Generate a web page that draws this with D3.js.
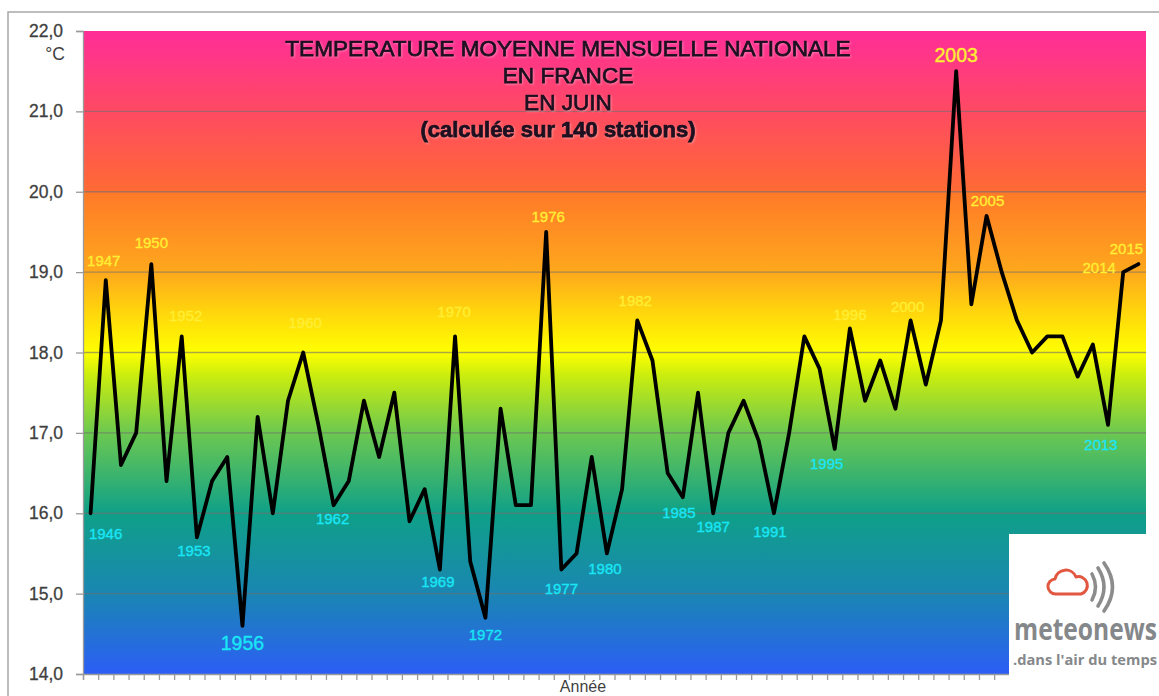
<!doctype html>
<html>
<head>
<meta charset="utf-8">
<script src="https://cdnjs.cloudflare.com/ajax/libs/d3/7.8.5/d3.min.js"></script>
<style>
html, body { margin: 0; padding: 0; background: #fff; overflow: hidden; }
svg { display: block; font-family: "Liberation Sans", Arial, sans-serif; }
.tick text { fill: #3f3f3f; stroke: #3f3f3f; stroke-width: 0.3px; font-size: 17.5px; font-family: "Liberation Sans", Arial, sans-serif; }
.tick line, .domain { stroke: #9a9a9a; stroke-width: 1.3px; }
.title { fill: #1d1020; stroke: #1d1020; stroke-width: 0.75px; text-anchor: middle; filter: drop-shadow(1px 1px 0.8px rgba(255,255,255,.35)); }
.year { text-anchor: middle; stroke-width: 0.35px; }
</style>
</head>
<body>
<svg width="1159" height="696"></svg>
<script>
var years = d3.range(1946, 2016);
var temps = [16.0, 18.9, 16.6, 17.0, 19.1, 16.4, 18.2, 15.7, 16.4, 16.7,
             14.6, 17.2, 16.0, 17.4, 18.0, 17.1, 16.1, 16.4, 17.4, 16.7,
             17.5, 15.9, 16.3, 15.3, 18.2, 15.4, 14.7, 17.3, 16.1, 16.1,
             19.5, 15.3, 15.5, 16.7, 15.5, 16.3, 18.4, 17.9, 16.5, 16.2,
             17.5, 16.0, 17.0, 17.4, 16.9, 16.0, 17.0, 18.2, 17.8, 16.8,
             18.3, 17.4, 17.9, 17.3, 18.4, 17.6, 18.4, 21.5, 18.6, 19.7,
             19.0, 18.4, 18.0, 18.2, 18.2, 17.7, 18.1, 17.1, 19.0, 19.1];
var hotYears = [1947, 1950, 1952, 1960, 1970, 1976, 1982, 1996, 2000, 2003, 2005, 2014, 2015];
var coldYears = [1946, 1953, 1956, 1962, 1969, 1972, 1977, 1980, 1985, 1987, 1991, 1995, 2013];
var recordYears = [1956, 2003];
var yTicks = [14, 15, 16, 17, 18, 19, 20, 21, 22];
var titleLines = ["TEMPERATURE MOYENNE MENSUELLE NATIONALE", "EN FRANCE", "EN JUIN", "(calculée sur 140 stations)"];

var svg = d3.select("svg");

// image frame, runs off the right and bottom edges
svg.append("rect").attr("x", 8).attr("y", 12).attr("width", 1300).attr("height", 900)
    .attr("fill", "none").attr("stroke", "#a8a8a8").attr("stroke-width", 1.5);

var xScale = d3.scaleLinear().domain([1946, 2016]).range([83, 1146]);
var yScale = d3.scaleLinear().domain([14, 22]).range([674, 31]);

// background colour ramp, top to bottom
var stops = [
    [22, "#ff2d98"], [21, "#ff4a62"], [20.02, "#ff6a34"], [19.98, "#ff7a28"], [19, "#ffa81c"], [18.5, "#ffd60c"],
    [18, "#ffff00"], [17.7, "#c8ec10"], [17, "#6cc850"], [16, "#0fa088"], [15, "#1a86b2"], [14, "#2c5ef6"]
];
var grad = svg.append("defs").append("linearGradient").attr("id", "ramp")
    .attr("x1", 0).attr("y1", 0).attr("x2", 0).attr("y2", 1);
stops.forEach(function(s) {
    grad.append("stop").attr("offset", (22 - s[0]) / 8).attr("stop-color", s[1]);
});
svg.append("rect")
    .attr("x", xScale(1946)).attr("y", yScale(22))
    .attr("width", xScale(2016) - xScale(1946)).attr("height", yScale(14) - yScale(22))
    .attr("fill", "url(#ramp)");

// grid
svg.append("g").selectAll("line").data(yTicks.slice(1, -1)).enter().append("line")
    .attr("x1", xScale(1946)).attr("x2", xScale(2016))
    .attr("y1", d => yScale(d)).attr("y2", d => yScale(d))
    .attr("stroke", "#6f6f6f").attr("stroke-opacity", 0.6).attr("stroke-width", 1.3);

var yAxis = d3.axisLeft(yScale).tickValues(yTicks).tickSize(7).tickPadding(13)
    .tickFormat(d => d3.format(".1f")(d).replace(".", ","));
svg.append("g").attr("transform", "translate(83,0)").call(yAxis);

var xAxis = d3.axisBottom(xScale).tickValues(d3.range(1946, 2017)).tickSize(6).tickFormat("");
svg.append("g").attr("transform", "translate(0,674)").call(xAxis);

svg.append("text").attr("x", 65).attr("y", 60).attr("text-anchor", "end")
    .attr("fill", "#3f3f3f").attr("font-size", 17.5).text("°C");
svg.append("text").attr("x", 583).attr("y", 692).attr("text-anchor", "middle")
    .attr("fill", "#3f3f3f").attr("font-size", 16).text("Année");

// temperature line
var line = d3.line().x((d, i) => xScale(years[i] + 0.5)).y(d => yScale(d));
svg.append("path").datum(temps).attr("d", line)
    .attr("fill", "none").attr("stroke", "#000").attr("stroke-width", 3.8)
    .attr("stroke-linejoin", "round").attr("stroke-linecap", "round");

// title
svg.append("g").selectAll("text").data(titleLines).enter().append("text")
    .attr("class", "title")
    .attr("x", (d, i) => i == 3 ? 558 : 568)
    .attr("y", (d, i) => 56 + i * 27)
    .attr("font-size", (d, i) => i == 3 ? 22 : 22.6)
    .attr("font-weight", (d, i) => i == 3 ? 700 : 400)
    .text(d => d);

// year labels: pixel nudge from the point, [dx, dy of the text centre]
var nudge = {1946: [15, 20], 1947: [-2, -19], 1950: [0, -21], 1952: [4, -21], 1953: [-3, 13], 1956: [0, 17],
    1960: [2, -30], 1962: [-1, 14], 1969: [-2, 12], 1970: [-1, -25], 1972: [0, 17], 1976: [2, -15],
    1977: [0, 19], 1980: [-2, 15], 1982: [-2, -20], 1985: [-4, 16], 1987: [0, 13], 1991: [-4, 18],
    1995: [-8, 15], 1996: [0, -14], 2000: [-3, -14], 2003: [0, -16], 2005: [1, -15], 2013: [-7, 20],
    2014: [-24, -4], 2015: [-12, -15]};

function drawYears(list, colour) {
    svg.append("g").selectAll("text").data(list).enter().append("text")
        .attr("class", "year")
        .attr("fill", colour)
        .attr("stroke", colour)
        .attr("font-size", d => recordYears.includes(d) ? 19.5 : 15)
        .attr("x", d => xScale(d + 0.5) + nudge[d][0])
        .attr("y", d => yScale(temps[years.indexOf(d)]) + nudge[d][1])
        .attr("dy", "0.35em")
        .text(d => d);
}
drawYears(hotYears, "#ffee33");
drawYears(coldYears, "#19e6f5");

// logo block sits over the corner of the plot
var logo = svg.append("g");
logo.append("rect").attr("x", 1009).attr("y", 534).attr("width", 150).attr("height", 162).attr("fill", "#fff");
logo.append("path")
    .attr("d", "M1056 594 a7.5 7.5 0 0 1 -1 -15 a11 11 0 0 1 21 -2 a8.5 8.5 0 0 1 5 17 z")
    .attr("fill", "none").attr("stroke", "#e2573f").attr("stroke-width", 3).attr("stroke-linejoin", "round");
["M1092 574 q7 13 0 26", "M1098 568 q12 19 0 38", "M1104 563 q17 24 0 48"].forEach(function(d) {
    logo.append("path").attr("d", d).attr("fill", "none").attr("stroke", "#8c8c8c")
        .attr("stroke-width", 3.6).attr("stroke-linecap", "round");
});
logo.append("text").attr("transform", "translate(1014,640) scale(1,1.19)").attr("fill", "#85888a")
    .attr("font-family", "'Open Sans', sans-serif").attr("font-weight", 700).attr("font-size", 26)
    .attr("textLength", 143).attr("lengthAdjust", "spacingAndGlyphs").text("meteonews");
logo.append("text").attr("x", 1013).attr("y", 665).attr("fill", "#85888a")
    .attr("font-family", "'Open Sans', sans-serif").attr("font-weight", 700).attr("font-size", 14.5)
    .attr("textLength", 144).attr("lengthAdjust", "spacingAndGlyphs").text(".dans l'air du temps");
</script>
</body>
</html>
